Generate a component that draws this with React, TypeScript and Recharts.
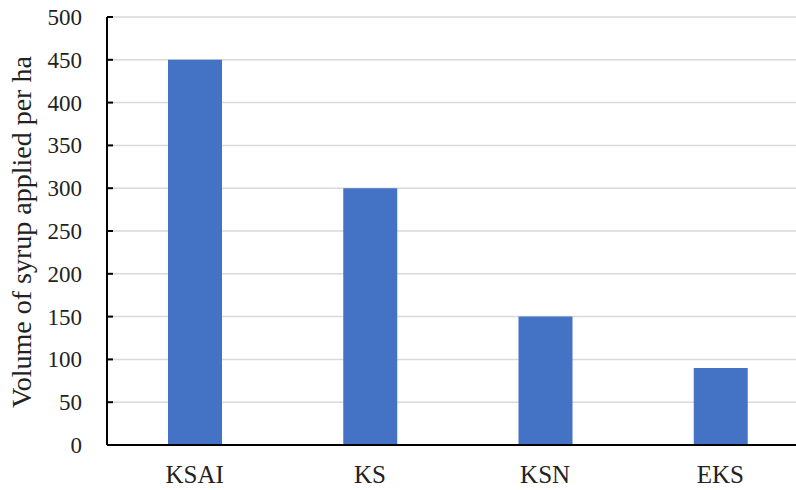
import React from 'react';
import { BarChart, Bar, XAxis, YAxis, CartesianGrid, Label } from 'recharts';

const categories = ['KSAI', 'KS', 'KSN', 'EKS'];
const volumes = [450, 300, 150, 90];
const yTicks = [0, 50, 100, 150, 200, 250, 300, 350, 400, 450, 500];
const yTitle = 'Volume of syrup applied per ha';

const data = categories.map((c, i) => ({ name: c, value: volumes[i] }));

const FONT = '"Liberation Serif", "Times New Roman", serif';

const YTick = (props: any) => {
  const { x, y, payload } = props;
  return (
    <g>
      <line x1={x + 25} x2={x + 31} y1={y} y2={y} stroke="#000" strokeWidth={2} />
      <text x={x} y={y} dy={8} textAnchor="end" fill="#222" fontSize={23} fontFamily={FONT}>
        {payload.value}
      </text>
    </g>
  );
};

const XTick = (props: any) => {
  const { x, y, payload } = props;
  return (
    <text x={x} y={y} dy={21} textAnchor="middle" fill="#222" fontSize={25} fontFamily={FONT}>
      {payload.value}
    </text>
  );
};

export default function App() {
  return (
    <div style={{ position: 'absolute', left: 0, top: 0, width: 796, height: 490, overflow: 'hidden', background: '#fff' }}>
      <BarChart
        width={810}
        height={490}
        data={data}
        margin={{ top: 17, right: 2, bottom: 0, left: 0 }}
        barSize={54}
      >
        <CartesianGrid vertical={false} stroke="#d9d9d9" strokeWidth={1.5} />
        <XAxis
          dataKey="name"
          height={45}
          axisLine={{ stroke: '#000', strokeWidth: 2 }}
          tickLine={false}
          tickSize={0}
          tickMargin={17}
          tick={<XTick />}
        />
        <YAxis
          width={107}
          domain={[0, 500]}
          ticks={yTicks}
          interval={0}
          axisLine={{ stroke: '#000', strokeWidth: 2 }}
          tickLine={false}
          tickSize={0}
          tickMargin={25}
          tick={<YTick />}
        >
          <Label
            content={() => (
              <text
                x={31}
                y={232}
                transform="rotate(-90 31 232)"
                textAnchor="middle"
                fill="#222"
                fontSize={28}
                fontFamily={FONT}
              >
                {yTitle}
              </text>
            )}
          />
        </YAxis>
        <Bar dataKey="value" fill="#4472c4" isAnimationActive={false} />
      </BarChart>
    </div>
  );
}
